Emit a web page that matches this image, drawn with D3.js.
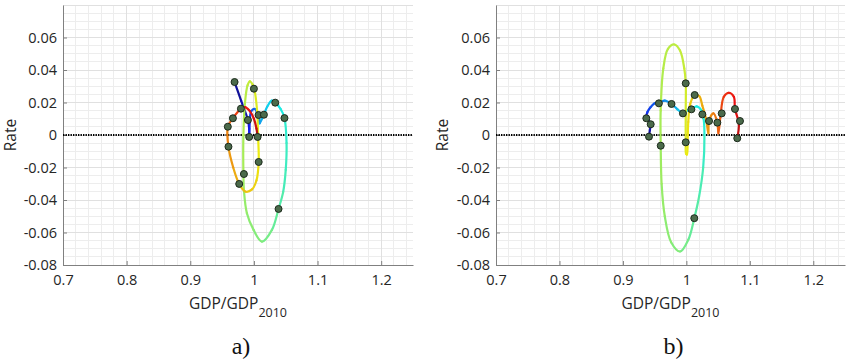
<!DOCTYPE html>
<html><head><meta charset="utf-8">
<script src="https://cdn.jsdelivr.net/npm/d3@7"></script>
<style>body{margin:0;background:#fff}svg{display:block}</style>
</head><body>
<svg id="chart" width="850" height="362"></svg>
<script>
// ---- data ----
const xTicks = [0.7, 0.8, 0.9, 1, 1.1, 1.2];
const yTicks = [0.06, 0.04, 0.02, 0, -0.02, -0.04, -0.06, -0.08];
const xDomain = [0.7, 1.25];
const yDomain = [-0.08, 0.08];
const panelLabels = ["a)", "b)"];
const xLabel = "GDP/GDP", xLabelSub = "2010", yLabel = "Rate";

// trajectory a): [GDP/GDP2010, rate, time fraction]
const pathA = [
  [0.9696, 0.0326, 0.02], [0.980, 0.021, 0.04], [0.9906, 0.0092, 0.07], [0.9925, 0.004, 0.09],
  [0.9926, -0.0012, 0.12], [0.9935, 0.008, 0.16], [0.9958, 0.0147, 0.19], [1.0015, 0.016, 0.22],
  [1.0055, 0.013, 0.24], [1.0073, 0.0110, 0.26], [1.009, 0.0072, 0.28], [1.012, 0.0095, 0.30],
  [1.0157, 0.0125, 0.32], [1.021, 0.0175, 0.34], [1.028, 0.0212, 0.35], [1.0335, 0.0199, 0.36],
  [1.042, 0.016, 0.38], [1.048, 0.0104, 0.40], [1.0513, -0.005, 0.42], [1.050, -0.0215, 0.43],
  [1.046, -0.035, 0.44], [1.0387, -0.0455, 0.46], [1.0283, -0.0584, 0.48], [1.0126, -0.0656, 0.50],
  [0.9995, -0.0584, 0.51], [0.989, -0.0481, 0.52], [0.9843, -0.0338, 0.53], [0.9835, -0.024, 0.54],
  [0.9835, 0.0, 0.55], [0.986, 0.02, 0.56], [0.990, 0.0305, 0.57], [0.9937, 0.033, 0.58],
  [0.998, 0.031, 0.59], [1.0005, 0.0285, 0.60], [1.005, 0.015, 0.61], [1.0065, 0.0, 0.62],
  [1.0075, -0.0166, 0.63], [1.004, -0.028, 0.65], [0.997, -0.0335, 0.66], [0.9865, -0.0348, 0.67],
  [0.9769, -0.0301, 0.69], [0.9675, -0.020, 0.71], [0.960, -0.0072, 0.73], [0.959, 0.0051, 0.76],
  [0.967, 0.0103, 0.80], [0.9796, 0.0162, 0.84], [0.986, 0.0172, 0.86], [0.993, 0.015, 0.88],
  [1.0, 0.010, 0.90], [1.004, 0.004, 0.92], [1.0058, -0.0012, 0.95]
];
const markersA = [
  [0.9696, 0.0326], [0.9906, 0.0092], [0.9926, -0.0012], [1.0073, 0.0123], [1.0157, 0.0125],
  [1.0335, 0.0199], [1.048, 0.0104], [1.0387, -0.0455], [0.9843, -0.024], [1.0, 0.0285],
  [1.0075, -0.0166], [0.9769, -0.0301], [0.960, -0.0072], [0.959, 0.0051], [0.967, 0.0103],
  [0.9796, 0.0162], [1.0058, -0.0012]
];

// trajectory b)
const pathB = [
  [0.9411, -0.001, 0.02], [0.9425, 0.003, 0.04], [0.9438, 0.0066, 0.07], [0.9405, 0.009, 0.10],
  [0.9369, 0.0103, 0.13], [0.9385, 0.014, 0.16], [0.9438, 0.0172, 0.19], [0.950, 0.0195, 0.21],
  [0.9567, 0.0200, 0.23], [0.966, 0.0211, 0.26], [0.9766, 0.0191, 0.29], [0.986, 0.0158, 0.32],
  [0.9946, 0.0133, 0.34], [1.001, 0.0150, 0.36], [1.0079, 0.0160, 0.37], [1.0163, 0.0176, 0.38],
  [1.024, 0.0150, 0.39], [1.0272, 0.0100, 0.40], [1.0285, 0.0, 0.41], [1.0265, -0.020, 0.43],
  [1.020, -0.038, 0.45], [1.0125, -0.0512, 0.46], [1.003, -0.0645, 0.48], [0.990, -0.0717, 0.50],
  [0.976, -0.066, 0.51], [0.966, -0.050, 0.52], [0.961, -0.030, 0.53], [0.9596, -0.0066, 0.54],
  [0.9595, 0.015, 0.55], [0.9637, 0.041, 0.56], [0.971, 0.053, 0.565], [0.981, 0.0557, 0.57],
  [0.990, 0.052, 0.575], [0.9967, 0.041, 0.58], [0.999, 0.0318, 0.59], [0.999, 0.015, 0.60],
  [0.999, -0.0045, 0.61], [0.9995, -0.0115, 0.62], [1.001, -0.012, 0.625], [1.002, -0.004, 0.63],
  [1.003, 0.008, 0.64], [1.006, 0.019, 0.65], [1.0131, 0.0246, 0.67], [1.0205, 0.0238, 0.69],
  [1.0252, 0.0180, 0.70], [1.031, 0.010, 0.71], [1.0347, 0.001, 0.72], [1.0357, 0.0086, 0.73],
  [1.0426, 0.0133, 0.75], [1.0488, 0.0076, 0.77], [1.0505, 0.001, 0.78], [1.0537, 0.0113, 0.80],
  [1.059, 0.0235, 0.83], [1.0669, 0.026, 0.85], [1.0748, 0.0235, 0.87], [1.0766, 0.016, 0.88],
  [1.0827, 0.0072, 0.90], [1.0802, -0.002, 0.95]
];
const markersB = [
  [0.9411, -0.001], [0.9438, 0.0066], [0.9369, 0.0103], [0.9567, 0.0195], [0.9766, 0.0191],
  [0.9946, 0.0133], [1.0079, 0.0158], [1.0125, -0.0512], [0.9596, -0.0066], [0.999, 0.0318],
  [0.999, -0.0045], [1.0131, 0.0246], [1.0252, 0.0127], [1.0357, 0.0086], [1.0488, 0.0076],
  [1.0557, 0.0133], [1.0766, 0.016], [1.0845, 0.0086], [1.0802, -0.002]
];

// ---- drawing ----
const svg = d3.select("#chart");
const fmt = d => String(+(+d).toFixed(2));
function jet(t) {
  const c = v => Math.max(0, Math.min(1, v));
  const base = d3.rgb(255 * c(1.5 - Math.abs(4 * t - 3)), 255 * c(1.5 - Math.abs(4 * t - 2)), 255 * c(1.5 - Math.abs(4 * t - 1)));
  return d3.interpolateRgb(base, "#7a7a7a")(0.14);
}

const panels = [
  { label: panelLabels[0], path: pathA, markers: markersA, x0: 63, x1: 413, ylab: 9 },
  { label: panelLabels[1], path: pathB, markers: markersB, x0: 496, x1: 845, ylab: 441 }
];
const plotTop = 5, plotBottom = 265;

panels.forEach(p => {
  const x = d3.scaleLinear().domain(xDomain).range([p.x0, p.x1]);
  const y = d3.scaleLinear().domain(yDomain).range([plotBottom, plotTop]);
  const g = svg.append("g");

  // minor grid
  const xMinor = d3.range(0, 28).map(i => 0.7 + i * 0.02).filter(v => v <= 1.2501);
  const yMinor = d3.range(0, 33).map(i => -0.08 + i * 0.005);
  g.append("g").selectAll("line").data(xMinor).join("line")
    .attr("x1", d => x(d)).attr("x2", d => x(d)).attr("y1", plotTop).attr("y2", plotBottom)
    .attr("stroke", "#ededed").attr("stroke-width", 1).attr("shape-rendering", "crispEdges");
  g.append("g").selectAll("line").data(yMinor).join("line")
    .attr("x1", p.x0).attr("x2", p.x1).attr("y1", d => y(d)).attr("y2", d => y(d))
    .attr("stroke", "#ededed").attr("stroke-width", 1).attr("shape-rendering", "crispEdges");
  // major grid
  g.append("g").selectAll("line").data(xTicks).join("line")
    .attr("x1", d => x(d)).attr("x2", d => x(d)).attr("y1", plotTop).attr("y2", plotBottom)
    .attr("stroke", "#e0e0e0").attr("stroke-width", 1).attr("shape-rendering", "crispEdges");
  g.append("g").selectAll("line").data(yTicks.concat([0.08])).join("line")
    .attr("x1", p.x0).attr("x2", p.x1).attr("y1", d => y(d)).attr("y2", d => y(d))
    .attr("stroke", "#e0e0e0").attr("stroke-width", 1).attr("shape-rendering", "crispEdges");

  // axes
  const ax = g.append("g").attr("transform", `translate(0,${plotBottom})`)
    .call(d3.axisBottom(x).tickValues(xTicks).tickFormat(fmt).tickSizeInner(-4).tickSizeOuter(0).tickPadding(10));
  const ay = g.append("g").attr("transform", `translate(${p.x0},0)`)
    .call(d3.axisLeft(y).tickValues(yTicks).tickFormat(fmt).tickSizeInner(-4).tickSizeOuter(0).tickPadding(6));
  [ax, ay].forEach(a => {
    a.select(".domain").attr("stroke", "#808080");
    a.selectAll(".tick line").attr("stroke", "#808080");
    a.selectAll("text").attr("fill", "#262626").style("font-family", "'Open Sans', sans-serif").style("font-size", "14.5px");
  });

  // zero line
  g.append("line").attr("x1", p.x0).attr("x2", p.x1).attr("y1", y(0)).attr("y2", y(0))
    .attr("stroke", "#000").attr("stroke-width", 1.8).attr("stroke-dasharray", "1.4,1.1");

  // curve segments (Catmull-Rom via d3 line, recorded per segment)
  const segs = [];
  let cur = null;
  const ctx = {
    moveTo(a, b) { cur = [a, b]; },
    lineTo(a, b) { segs.push(`M${cur}L${a},${b}`); cur = [a, b]; },
    bezierCurveTo(a, b, c, d, e, f) { segs.push(`M${cur}C${a},${b},${c},${d},${e},${f}`); cur = [e, f]; },
    closePath() {}
  };
  d3.line().x(d => x(d[0])).y(d => y(d[1])).curve(d3.curveCatmullRom.alpha(0.5)).context(ctx)(p.path);
  g.append("g").selectAll("path").data(segs).join("path")
    .attr("d", d => d).attr("fill", "none")
    .attr("stroke", (d, i) => jet((p.path[i][2] + p.path[Math.min(i + 1, p.path.length - 1)][2]) / 2))
    .attr("stroke-width", 2.2).attr("stroke-linecap", "round");

  // markers
  g.append("g").selectAll("circle").data(p.markers).join("circle")
    .attr("cx", d => x(d[0])).attr("cy", d => y(d[1])).attr("r", 3.5)
    .attr("fill", "#4b6a4b").attr("stroke", "#1c2a1c").attr("stroke-width", 1);

  // labels
  const cx = (p.x0 + p.x1) / 2;
  const xl = g.append("text").attr("x", cx).attr("y", 309).attr("text-anchor", "middle")
    .attr("fill", "#262626").style("font-family", "'Open Sans', sans-serif").style("font-size", "15.5px");
  xl.append("tspan").text(xLabel);
  xl.append("tspan").attr("dy", 8).style("font-size", "12.5px").text(xLabelSub);
  g.append("text").attr("transform", `translate(${p.ylab + 1},135) rotate(-90)`).attr("text-anchor", "middle")
    .attr("dominant-baseline", "central")
    .attr("fill", "#262626").style("font-family", "'Open Sans', sans-serif").style("font-size", "15.5px").text(yLabel);
  g.append("text").attr("x", cx + 3).attr("y", 354).attr("text-anchor", "middle")
    .attr("fill", "#111").style("font-family", "'Liberation Serif', serif").style("font-size", "24px").text(p.label);
});
</script>
</body></html>
